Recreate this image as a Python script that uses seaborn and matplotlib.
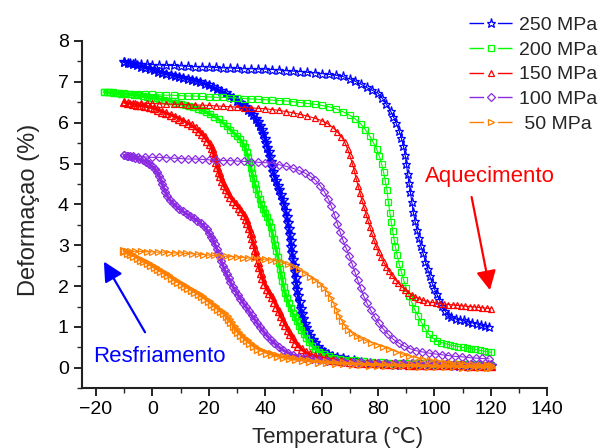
import matplotlib
matplotlib.use("Agg")
import matplotlib.pyplot as plt
from matplotlib.lines import Line2D
from matplotlib.ticker import MultipleLocator
import seaborn as sns

# ---------------- data: strain (%) vs temperature (°C) ----------------
labels = ["250 MPa", "200 MPa", "150 MPa", "100 MPa", " 50 MPa"]
colors = ["#0000ff", "#00ff00", "#ff0000", "#8a2be2", "#ff8000"]
markers = ["*", "s", "^", "D", ">"]
msizes = [6.5, 4.5, 5.0, 4.0, 5.0]

# 250 MPa
t250_heat = [-10, -8, -6, -4, -2, 0, 2.5, 5, 7.5, 10, 12.5, 15, 17.5, 20, 22.5, 25, 27.5, 30, 32.5, 35,
             37.5, 40, 42.5, 45, 47.5, 50, 52.5, 55, 57.5, 60, 62.5, 65, 67.5, 70, 72, 74, 76, 78, 80,
             81.5, 83, 84.5, 85.5, 86.5, 87.5, 88.3, 89, 89.6, 90.1, 90.5, 91, 91.5, 92, 92.5, 93.1,
             93.8, 94.5, 95.2, 96, 96.8, 97.6, 98.4, 99.2, 100, 100.9, 101.8, 102.7, 103.7, 104.8, 106,
             107.5, 109, 110.5, 112, 113.5, 115, 116.5, 118, 119.5]
e250_heat = [7.48, 7.46, 7.45, 7.44, 7.43, 7.42, 7.41, 7.40, 7.40, 7.39, 7.38, 7.37, 7.37, 7.36, 7.35,
             7.34, 7.34, 7.33, 7.32, 7.32, 7.31, 7.31, 7.30, 7.29, 7.27, 7.26, 7.25, 7.23, 7.22, 7.20,
             7.18, 7.16, 7.13, 7.07, 7.01, 6.94, 6.86, 6.79, 6.72, 6.60, 6.45, 6.28, 6.14, 5.98, 5.80,
             5.62, 5.44, 5.22, 4.98, 4.75, 4.52, 4.30, 4.05, 3.82, 3.60, 3.38, 3.17, 2.98, 2.80, 2.60,
             2.42, 2.24, 2.08, 1.93, 1.80, 1.66, 1.52, 1.40, 1.30, 1.24, 1.20, 1.18, 1.16, 1.13, 1.10,
             1.08, 1.05, 1.02, 1.00]
t250_cool = [-10, -8.5, -7, -5.5, -4, -2.5, -1, 0.5, 2, 3.5, 5, 6.5, 8, 9.5, 11, 12.5, 14, 15.5, 17,
             18.5, 20, 21.5, 23, 24.5, 26, 27.3, 28.6, 29.9, 31, 32, 33, 34, 35, 35.8, 36.6, 37.3, 38,
             38.7, 39.3, 39.9, 40.4, 40.8, 41.2, 41.6, 42, 42.4, 42.8, 43.3, 43.8, 44.4, 45, 45.6, 46.2,
             46.8, 47.3, 47.7, 48.1, 48.5, 48.8, 49.1, 49.3, 49.6, 49.9, 50.2, 50.5, 50.8, 51.1, 51.4,
             51.8, 52.2, 52.6, 53, 53.5, 54, 54.6, 55.2, 56, 56.8, 57.7, 58.7, 59.8, 61, 62.3, 63.8,
             65.5, 67.5, 69.5, 71.5, 74, 77, 80, 83, 86, 89, 92, 95, 98, 101, 104, 107, 110, 113, 116,
             119, 120]
e250_cool = [7.49, 7.46, 7.43, 7.40, 7.37, 7.34, 7.31, 7.28, 7.25, 7.22, 7.19, 7.17, 7.14, 7.12, 7.09,
             7.07, 7.04, 7.02, 6.99, 6.95, 6.91, 6.87, 6.82, 6.77, 6.72, 6.66, 6.60, 6.54, 6.49, 6.44,
             6.38, 6.32, 6.25, 6.18, 6.10, 6.01, 5.92, 5.83, 5.72, 5.61, 5.50, 5.39, 5.28, 5.16, 5.04,
             4.92, 4.80, 4.68, 4.57, 4.46, 4.35, 4.22, 4.10, 3.98, 3.85, 3.70, 3.55, 3.40, 3.25, 3.10,
             2.95, 2.80, 2.65, 2.50, 2.35, 2.20, 2.05, 1.90, 1.75, 1.60, 1.45, 1.32, 1.20, 1.08, 0.97,
             0.88, 0.78, 0.69, 0.60, 0.51, 0.44, 0.38, 0.33, 0.29, 0.26, 0.23, 0.20, 0.18, 0.15, 0.12,
             0.10, 0.09, 0.08, 0.08, 0.07, 0.07, 0.06, 0.06, 0.06, 0.05, 0.05, 0.05, 0.04, 0.04, 0.04]

# 200 MPa
t200_heat = [-17, -16, -15, -14, -12, -10, -7.5, -5, -2.5, 0, 2.5, 5, 7.5, 10, 12.5, 15, 17.5, 20, 22.5,
             25, 27.5, 30, 32.5, 35, 37.5, 40, 42.5, 45, 47.5, 50, 52.5, 55, 57.5, 60, 62.5, 65, 67.5,
             70, 72, 74, 75.5, 77, 78.3, 79.5, 80.5, 81.3, 82, 82.6, 83.2, 83.7, 84.2, 84.7, 85.2, 85.7,
             86.2, 86.8, 87.5, 88.3, 89.1, 90, 91, 92, 93, 94.2, 95.4, 96.7, 98, 99.5, 101, 102.5, 104,
             105.5, 107, 108.5, 110, 111.5, 113, 114.5, 116, 117.5, 119, 120]
e200_heat = [6.75, 6.75, 6.74, 6.74, 6.73, 6.72, 6.71, 6.70, 6.69, 6.69, 6.68, 6.67, 6.67, 6.66, 6.65,
             6.65, 6.64, 6.63, 6.62, 6.62, 6.61, 6.60, 6.59, 6.58, 6.57, 6.56, 6.55, 6.54, 6.53, 6.51,
             6.49, 6.47, 6.45, 6.42, 6.39, 6.34, 6.27, 6.18, 6.09, 5.96, 5.83, 5.68, 5.52, 5.36, 5.18,
             4.98, 4.78, 4.57, 4.35, 4.05, 3.80, 3.58, 3.36, 3.14, 2.95, 2.75, 2.55, 2.35, 2.15, 1.95,
             1.77, 1.60, 1.43, 1.27, 1.11, 0.97, 0.82, 0.72, 0.66, 0.62, 0.59, 0.56, 0.54, 0.52, 0.50,
             0.49, 0.47, 0.45, 0.43, 0.41, 0.39, 0.38]
t200_cool = [-17, -15.5, -14, -12.5, -11, -9.5, -8, -6.5, -5, -3.5, -2, -0.5, 1, 2.5, 4, 5.5, 7, 8.5,
             10, 11.5, 13, 14.5, 16, 17.5, 19, 20.5, 22, 23.5, 25, 26.3, 27.6, 28.8, 30, 31, 32, 32.8,
             33.4, 33.9, 34.4, 34.9, 35.3, 35.8, 36.3, 36.8, 37.4, 38, 38.6, 39.3, 40, 40.7, 41.3, 41.9,
             42.5, 43, 43.5, 44, 44.5, 44.9, 45.3, 45.7, 46.1, 46.6, 47.1, 47.7, 48.3, 49, 49.7, 50.4,
             51.2, 52, 52.8, 53.6, 54.5, 55.5, 56.6, 57.8, 59.2, 60.8, 62.5, 64.5, 66.5, 69, 72, 75, 78,
             81, 84, 87, 90, 93, 96, 99, 102, 105, 108, 111, 114, 117, 120]
e200_cool = [6.75, 6.74, 6.73, 6.72, 6.71, 6.70, 6.69, 6.68, 6.67, 6.65, 6.63, 6.61, 6.60, 6.58, 6.56,
             6.54, 6.52, 6.49, 6.46, 6.43, 6.41, 6.38, 6.34, 6.30, 6.26, 6.21, 6.15, 6.08, 6.00, 5.92,
             5.83, 5.75, 5.68, 5.60, 5.51, 5.40, 5.28, 5.16, 5.03, 4.90, 4.77, 4.64, 4.51, 4.38, 4.25,
             4.12, 4.00, 3.89, 3.79, 3.69, 3.58, 3.45, 3.30, 3.15, 3.00, 2.86, 2.71, 2.56, 2.41, 2.27,
             2.12, 1.97, 1.83, 1.70, 1.58, 1.46, 1.35, 1.25, 1.14, 1.03, 0.93, 0.83, 0.73, 0.63, 0.54,
             0.46, 0.39, 0.33, 0.29, 0.25, 0.22, 0.20, 0.18, 0.16, 0.15, 0.14, 0.13, 0.12, 0.12, 0.11,
             0.11, 0.10, 0.10, 0.10, 0.09, 0.09, 0.09, 0.08, 0.08]

# 150 MPa
t150_heat = [-10, -8, -6, -4, -2, 0, 2.5, 5, 7.5, 10, 12.5, 15, 17.5, 20, 22.5, 25, 27.5, 30, 32.5, 35,
             37.5, 40, 42.5, 45, 47.5, 50, 52.5, 55, 57.5, 60, 62, 64, 65.5, 67, 68.2, 69.2, 70, 70.8,
             71.5, 72.2, 72.9, 73.6, 74.3, 75, 75.7, 76.4, 77.1, 77.8, 78.5, 79.3, 80.2, 81.1, 82, 83,
             84, 85, 86.1, 87.2, 88.4, 89.6, 90.8, 92, 93.3, 94.6, 96, 97.5, 99, 100.5, 102, 103.5, 105,
             106.5, 108, 109.5, 111, 112.5, 114, 115.5, 117, 118.5, 120]
e150_heat = [6.50, 6.49, 6.48, 6.48, 6.47, 6.47, 6.46, 6.46, 6.45, 6.45, 6.44, 6.43, 6.43, 6.42, 6.41,
             6.40, 6.39, 6.38, 6.37, 6.36, 6.35, 6.34, 6.32, 6.30, 6.27, 6.24, 6.20, 6.16, 6.11, 6.05,
             5.98, 5.88, 5.78, 5.66, 5.52, 5.36, 5.20, 5.02, 4.84, 4.65, 4.46, 4.28, 4.10, 3.93, 3.77,
             3.61, 3.45, 3.29, 3.13, 2.98, 2.84, 2.71, 2.59, 2.47, 2.36, 2.26, 2.16, 2.07, 1.99, 1.91,
             1.84, 1.78, 1.73, 1.69, 1.65, 1.62, 1.60, 1.59, 1.57, 1.56, 1.55, 1.54, 1.53, 1.52, 1.51,
             1.50, 1.49, 1.48, 1.47, 1.46, 1.45]
t150_cool = [-10, -8.5, -7, -5.5, -4, -2.5, -1, 0.5, 2, 3.5, 5, 6.5, 8, 9.5, 11, 12.5, 14, 15.3, 16.5,
             17.6, 18.6, 19.5, 20.3, 21, 21.5, 22, 22.5, 23, 23.5, 24, 24.6, 25.3, 26, 26.8, 27.7, 28.7,
             29.7, 30.7, 31.6, 32.4, 33.1, 33.7, 34.3, 34.8, 35.3, 35.8, 36.3, 36.8, 37.3, 37.8, 38.4,
             39, 39.7, 40.5, 41.4, 42.3, 43.2, 44, 44.8, 45.6, 46.4, 47.2, 48, 48.8, 49.7, 50.7, 51.8,
             53, 54.3, 55.8, 57.5, 59.5, 61.5, 64, 67, 70, 73, 76, 79, 82, 85, 88, 91, 94, 97, 100, 103,
             106, 109, 112, 115, 118, 120]
e150_cool = [6.50, 6.48, 6.46, 6.44, 6.42, 6.40, 6.38, 6.35, 6.31, 6.27, 6.23, 6.19, 6.15, 6.10, 6.05,
             5.99, 5.93, 5.86, 5.79, 5.72, 5.64, 5.56, 5.48, 5.39, 5.28, 5.16, 5.04, 4.92, 4.80, 4.69,
             4.58, 4.47, 4.37, 4.27, 4.17, 4.08, 4.00, 3.92, 3.84, 3.75, 3.65, 3.54, 3.42, 3.30, 3.17,
             3.03, 2.89, 2.75, 2.60, 2.46, 2.32, 2.19, 2.06, 1.94, 1.83, 1.73, 1.62, 1.50, 1.38, 1.26,
             1.15, 1.04, 0.93, 0.82, 0.72, 0.62, 0.53, 0.45, 0.38, 0.33, 0.29, 0.26, 0.23, 0.20, 0.17,
             0.15, 0.13, 0.12, 0.11, 0.10, 0.09, 0.09, 0.08, 0.08, 0.07, 0.07, 0.06, 0.06, 0.06, 0.05,
             0.05, 0.05, 0.05]

# 100 MPa
t100_heat = [-10, -9, -8, -7, -5, -2.5, 0, 2.5, 5, 7.5, 10, 12.5, 15, 17.5, 20, 22.5, 25, 27.5, 30,
             32.5, 35, 37.5, 40, 42.5, 45, 47.5, 50, 52, 54, 56, 57.8, 59.5, 61, 62.3, 63.5, 64.6, 65.6,
             66.6, 67.6, 68.7, 69.8, 70.8, 71.8, 72.8, 73.8, 74.9, 76.1, 77.4, 78.8, 80.3, 81.9, 83.6,
             85.4, 87.3, 89.3, 91.4, 93.5, 95.7, 98, 100.3, 102.6, 105, 107.4, 109.8, 112.2, 114.6, 117,
             119.4]
e100_heat = [5.20, 5.19, 5.19, 5.18, 5.17, 5.16, 5.15, 5.15, 5.14, 5.13, 5.12, 5.11, 5.11, 5.10, 5.09,
             5.08, 5.07, 5.07, 5.06, 5.05, 5.04, 5.03, 5.02, 5.00, 4.97, 4.93, 4.88, 4.83, 4.77, 4.69,
             4.59, 4.46, 4.31, 4.14, 3.95, 3.74, 3.53, 3.32, 3.12, 2.93, 2.74, 2.55, 2.35, 2.15, 1.95,
             1.76, 1.58, 1.41, 1.25, 1.09, 0.95, 0.82, 0.70, 0.61, 0.53, 0.47, 0.42, 0.39, 0.36, 0.34,
             0.32, 0.30, 0.28, 0.27, 0.25, 0.24, 0.23, 0.22]
t100_cool = [-10, -8.7, -7.4, -6.1, -4.8, -3.5, -2.3, -1.2, -0.2, 0.8, 1.7, 2.4, 3, 3.5, 4, 4.6, 5.3,
             6.2, 7.2, 8.3, 9.5, 10.8, 12.1, 13.4, 14.7, 15.9, 17.1, 18.2, 19.2, 20.1, 20.9, 21.6, 22.2,
             22.8, 23.3, 23.8, 24.4, 25, 25.6, 26.3, 27, 27.7, 28.5, 29.4, 30.3, 31.2, 32.2, 33.2, 34.2,
             35.2, 36.2, 37.2, 38.3, 39.4, 40.6, 41.9, 43.3, 44.8, 46.4, 48.1, 50, 52, 54.2, 56.5, 59,
             62, 65, 68, 71, 74, 77, 80, 83, 86, 89, 92, 95, 98, 101, 104, 107, 110, 113, 116, 119, 120]
e100_cool = [5.20, 5.18, 5.16, 5.14, 5.11, 5.08, 5.04, 4.99, 4.93, 4.87, 4.79, 4.70, 4.60, 4.50, 4.40,
             4.30, 4.20, 4.11, 4.03, 3.96, 3.89, 3.83, 3.77, 3.71, 3.66, 3.60, 3.54, 3.47, 3.39, 3.30,
             3.21, 3.12, 3.02, 2.92, 2.82, 2.72, 2.61, 2.50, 2.40, 2.29, 2.19, 2.09, 1.99, 1.89, 1.79,
             1.69, 1.59, 1.49, 1.39, 1.29, 1.19, 1.09, 0.99, 0.89, 0.79, 0.69, 0.60, 0.51, 0.43, 0.37,
             0.31, 0.27, 0.23, 0.21, 0.19, 0.17, 0.16, 0.15, 0.14, 0.14, 0.13, 0.13, 0.12, 0.12, 0.12,
             0.11, 0.11, 0.11, 0.10, 0.10, 0.10, 0.10, 0.09, 0.09, 0.09, 0.09]

# 50 MPa
t50_heat = [-10, -9, -8, -6, -4, -2, 0, 2, 4, 6, 8, 10, 12, 14, 16, 18, 20, 22, 24, 26, 28, 30, 32, 34,
            36, 38, 40, 42, 44, 46, 48, 50, 52, 54, 56, 57.8, 59.5, 61, 62.3, 63.4, 64.4, 65.3, 66.2,
            67.2, 68.3, 69.5, 70.9, 72.4, 74, 75.8, 77.7, 79.7, 81.8, 84, 86.3, 88.7, 91.1, 93.5, 96,
            98.5, 101, 103.5, 106, 108.5, 111, 113.5, 116, 118.5, 120]
e50_heat = [2.87, 2.86, 2.86, 2.85, 2.85, 2.84, 2.84, 2.83, 2.83, 2.82, 2.81, 2.81, 2.80, 2.79, 2.78,
            2.77, 2.76, 2.75, 2.74, 2.73, 2.72, 2.71, 2.70, 2.69, 2.68, 2.67, 2.66, 2.64, 2.62, 2.58,
            2.53, 2.48, 2.41, 2.32, 2.23, 2.14, 2.05, 1.95, 1.83, 1.70, 1.56, 1.42, 1.28, 1.15, 1.03,
            0.93, 0.85, 0.78, 0.72, 0.67, 0.62, 0.57, 0.52, 0.46, 0.40, 0.34, 0.29, 0.25, 0.22, 0.19,
            0.17, 0.15, 0.13, 0.11, 0.10, 0.09, 0.08, 0.07, 0.06]
t50_cool = [-10, -8.8, -7.6, -6.4, -5.2, -4, -2.8, -1.6, -0.4, 0.8, 2, 3.2, 4.4, 5.6, 6.8, 8, 9.2, 10.4,
            11.6, 12.8, 14, 15.2, 16.4, 17.6, 18.8, 20, 21.1, 22.2, 23.3, 24.4, 25.4, 26.3, 27.2, 28,
            28.8, 29.6, 30.5, 31.4, 32.4, 33.5, 34.7, 36, 37.4, 39, 40.7, 42.5, 44.5, 46.6, 48.8, 51,
            53.5, 56, 59, 62, 65, 68, 71, 74, 77, 80, 83, 86, 89, 92, 95, 98, 101, 104, 107, 110, 113,
            116, 119, 120]
e50_cool = [2.86, 2.82, 2.78, 2.74, 2.70, 2.65, 2.61, 2.56, 2.51, 2.46, 2.41, 2.36, 2.31, 2.26, 2.21,
            2.16, 2.11, 2.06, 2.01, 1.96, 1.91, 1.86, 1.81, 1.75, 1.69, 1.63, 1.57, 1.51, 1.45, 1.39,
            1.33, 1.26, 1.19, 1.11, 1.03, 0.95, 0.88, 0.81, 0.74, 0.67, 0.60, 0.53, 0.47, 0.42, 0.37,
            0.33, 0.29, 0.26, 0.23, 0.21, 0.19, 0.17, 0.15, 0.14, 0.12, 0.11, 0.10, 0.09, 0.08, 0.08,
            0.07, 0.07, 0.06, 0.06, 0.05, 0.05, 0.04, 0.04, 0.04, 0.03, 0.03, 0.03, 0.03, 0.03]

series = [
    (t250_heat, e250_heat, t250_cool, e250_cool),
    (t200_heat, e200_heat, t200_cool, e200_cool),
    (t150_heat, e150_heat, t150_cool, e150_cool),
    (t100_heat, e100_heat, t100_cool, e100_cool),
    (t50_heat, e50_heat, t50_cool, e50_cool),
]

# ---------------- style ----------------
sns.set_style("ticks")
plt.rcParams["font.family"] = ["Liberation Sans", "DejaVu Sans"]

fig = plt.figure(figsize=(5.99, 4.48), dpi=100)
ax = fig.add_axes([0.1367, 0.1333, 0.7768, 0.7754])

for (th, eh, tc, ec), col, mk, ms in zip(series, colors, markers, msizes):
    # cooling branch: densely sampled, drawn as a heavy band of markers
    sns.lineplot(x=tc, y=ec, ax=ax, color=col, linewidth=2.2, marker=mk,
                 markersize=ms + 0.5, markerfacecolor="none", markeredgecolor=col,
                 markeredgewidth=1.0, sort=False, estimator=None, legend=False)
    # heating branch
    sns.lineplot(x=th, y=eh, ax=ax, color=col, linewidth=0.8, marker=mk,
                 markersize=ms, markerfacecolor="none", markeredgecolor=col,
                 markeredgewidth=0.9, sort=False, estimator=None, legend=False)

ax.set_xlim(-25, 140)
ax.set_ylim(-0.5, 8)
ax.set_xticks(range(-20, 141, 20))
ax.set_yticks(range(0, 9))
ax.xaxis.set_minor_locator(MultipleLocator(10))
ax.yaxis.set_minor_locator(MultipleLocator(0.5))
ax.tick_params(which="major", direction="out", length=6, width=1.2, labelsize=14,
               pad=3.5, colors="black")
ax.tick_params(which="minor", direction="out", length=3.5, width=1.0)
for side in ("top", "right"):
    ax.spines[side].set_visible(False)
for side in ("left", "bottom"):
    ax.spines[side].set_linewidth(1.5)
    ax.spines[side].set_color("#222222")

ax.set_xlabel("Temperatura (℃)", fontsize=16)
ax.set_ylabel("Deformaçao (%)", fontsize=17)
ax.xaxis.set_label_coords(0.55, -0.112)
ax.yaxis.set_label_coords(-0.09, 0.515)

# heating / cooling annotations
ax.annotate("", xy=(119.7, 1.90), xytext=(113.2, 4.18),
            arrowprops=dict(arrowstyle="-|>,head_length=0.65,head_width=0.33",
                            color="red", lw=1.6, mutation_scale=18,
                            shrinkA=0, shrinkB=0))
ax.text(96.7, 4.55, "Aquecimento", color="red", fontsize=16, va="baseline")
ax.annotate("", xy=(-17.2, 2.6), xytext=(-2.6, 0.87),
            arrowprops=dict(arrowstyle="-|>,head_length=0.65,head_width=0.33",
                            color="blue", lw=1.6, mutation_scale=18,
                            shrinkA=0, shrinkB=0))
ax.text(-21.0, 0.14, "Resfriamento", color="blue", fontsize=16, va="baseline")

# legend: line - marker - line
handles = [Line2D([0], [0], color=c, lw=1.0, dashes=(10.5, 10.0), marker=m,
                  markersize=s, markerfacecolor="white", markeredgecolor=c,
                  markeredgewidth=0.9)
           for c, m, s in zip(colors, markers, msizes)]
fig.legend(handles, labels, loc="upper left", bbox_to_anchor=(0.783, 0.964),
           frameon=False, fontsize=14, numpoints=1, handlelength=2.26,
           handletextpad=0.31, labelspacing=0.37, borderpad=0, borderaxespad=0)

fig.savefig("out.png", dpi=100)
